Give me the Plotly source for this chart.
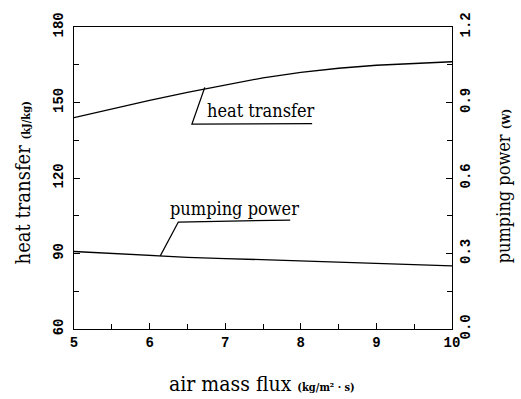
import plotly.graph_objects as go

# ---- data ----
air_mass_flux = [5.0, 5.5, 6.0, 6.5, 7.0, 7.5, 8.0, 8.5, 9.0, 9.5, 10.0]
heat_transfer = [144.0, 147.5, 150.8, 154.0, 156.9, 159.8, 162.0, 163.6, 164.8, 165.6, 166.2]
pumping_power = [0.308, 0.300, 0.292, 0.285, 0.280, 0.275, 0.270, 0.265, 0.260, 0.255, 0.251]

x_ticks = [5, 6, 7, 8, 9, 10]
left_ticks = [60, 90, 120, 150, 180]
right_ticks = [0.0, 0.3, 0.6, 0.9, 1.2]
right_labels = ["0.0", "0.3", "0.6", "0.9", "1.2"]

# callout leader lines (data units on the left axis)
heat_leader_x = [6.73, 6.56, 8.15]
heat_leader_y = [156.0, 141.4, 141.6]
pump_leader_x = [6.14, 6.38, 7.86]
pump_leader_y = [89.0, 102.5, 103.3]

TITLE_FONT = "DejaVu Serif Condensed, DejaVu Serif, serif"
TICK_FONT = "Liberation Mono, DejaVu Sans Mono, monospace"
NARROW = "font-stretch:condensed"

fig = go.Figure()
fig.add_trace(go.Scatter(x=air_mass_flux, y=heat_transfer, mode="lines",
                         line=dict(color="black", width=1.3), yaxis="y", showlegend=False))
fig.add_trace(go.Scatter(x=air_mass_flux, y=pumping_power, mode="lines",
                         line=dict(color="black", width=1.3), yaxis="y2", showlegend=False))
fig.add_trace(go.Scatter(x=heat_leader_x, y=heat_leader_y, mode="lines",
                         line=dict(color="black", width=1.3), yaxis="y", showlegend=False))
fig.add_trace(go.Scatter(x=pump_leader_x, y=pump_leader_y, mode="lines",
                         line=dict(color="black", width=1.3), yaxis="y", showlegend=False))

W, H = 521, 399
L, R, T, B = 74, 69, 20, 70
pw, ph = W - L - R, H - T - B

def px(xp):
    return (xp - L) / pw

def py(yp):
    return (H - B - yp) / ph

axis_common = dict(showgrid=False, zeroline=False, showline=True, linecolor="black",
                   linewidth=1.3, ticks="inside", ticklen=6, tickwidth=1.2, tickcolor="black")

fig.update_layout(
    width=W, height=H,
    margin=dict(l=L, r=R, t=T, b=B),
    paper_bgcolor="white", plot_bgcolor="white",
    xaxis=dict(range=[5, 10], tickvals=x_ticks, mirror=True,
               tickfont=dict(family=TICK_FONT, size=14, color="black", weight="bold"),
               minor=dict(dtick=0.5, ticks="inside", ticklen=5, tickcolor="black", tickwidth=1.2),
               **axis_common),
    yaxis=dict(range=[60, 180], tickvals=left_ticks, tickangle=-90, ticklabelstandoff=4,
               tickfont=dict(family=TICK_FONT, size=14, color="black", weight="bold"),
               minor=dict(dtick=15, ticks="inside", ticklen=5, tickcolor="black", tickwidth=1.2),
               **axis_common),
    yaxis2=dict(range=[0, 1.2], tickvals=right_ticks, ticktext=right_labels, tickangle=-90,
                overlaying="y", side="right",
                tickfont=dict(family=TICK_FONT, size=14, color="black", weight="bold"),
                minor=dict(dtick=0.15, ticks="inside", ticklen=5, tickcolor="black", tickwidth=1.2),
                **axis_common),
)

ann = []
ann.append(dict(text=f'<span style="{NARROW}">air mass flux</span> <span style="font-size:11px"><b>(kg/m² · s)</b></span>',
                x=px(262), y=py(385), xref="paper", yref="paper", showarrow=False,
                xanchor="center", yanchor="middle",
                font=dict(family=TITLE_FONT, size=21, color="black")))
ann.append(dict(text=f'<span style="{NARROW}">heat transfer</span> <span style="font-size:11px"><b>(kJ/kg)</b></span>',
                x=px(23), y=py(180), xref="paper", yref="paper", showarrow=False,
                xanchor="center", yanchor="middle", textangle=-90,
                font=dict(family=TITLE_FONT, size=20, color="black")))
ann.append(dict(text=f'<span style="{NARROW}">pumping power</span> <span style="font-size:11px"><b>(W)</b></span>',
                x=px(503), y=py(183), xref="paper", yref="paper", showarrow=False,
                xanchor="center", yanchor="middle", textangle=-90,
                font=dict(family=TITLE_FONT, size=18, color="black")))
ann.append(dict(text=f'<span style="{NARROW}">heat transfer</span>', x=7.47, y=146.8, xref="x", yref="y", showarrow=False,
                xanchor="center", yanchor="middle",
                font=dict(family=TITLE_FONT, size=18, color="black")))
ann.append(dict(text=f'<span style="{NARROW}">pumping power</span>', x=7.12, y=108.0, xref="x", yref="y", showarrow=False,
                xanchor="center", yanchor="middle",
                font=dict(family=TITLE_FONT, size=18, color="black")))
fig.update_layout(annotations=ann)

fig.write_html("out.html")
